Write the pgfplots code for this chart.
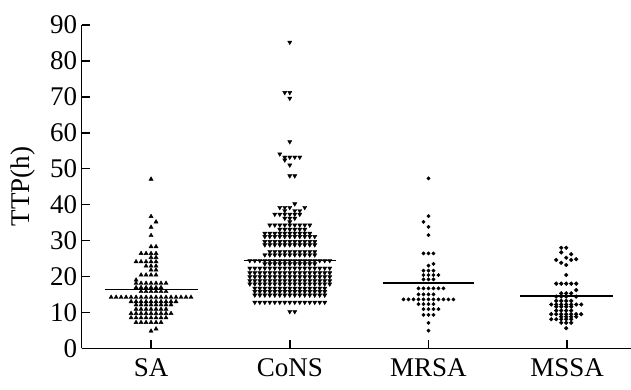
\documentclass[border=0pt]{standalone}
\usepackage{fontspec}
\setmainfont{Liberation Serif}
\usepackage{pgfplots}
\pgfplotsset{compat=1.18}
\begin{document}
\begin{tikzpicture}
\begin{axis}[
  scale only axis, width=549.3pt, height=323.3pt,
  xmin=-0.5, xmax=3.46, ymin=0, ymax=90,
  axis lines=left, axis line style={-, line width=1.5pt},
  xtick={0,1,2,3}, xticklabels={SA,CoNS,MRSA,MSSA},
  ytick={0,10,...,90},
  tick align=inside, major tick length=8pt, tick style={line width=1.5pt, black},
  xticklabel style={font=\fontsize{27}{29}\selectfont, yshift=-7pt},
  yticklabel style={font=\fontsize{27}{29}\selectfont, xshift=-1pt},
  /pgf/number format/assume math mode=true,
  ylabel={TTP(h)},
  ylabel style={font=\fontsize{27}{29}\selectfont, at={(axis description cs:-0.107,0.5)}, anchor=center},
  clip=false,
]
% SA
\addplot[only marks, mark=triangle*, mark size=2.4pt, black] table[row sep=\\, x expr=0.036*\thisrow{k}, y=y]{
k y\\
0 47.1\\ 0 36.7\\ 1 35.2\\ 0 33.7\\ 0 31.4\\
0 28.3\\ 1 28.3\\
-2 26.4\\ -1 26.4\\ 0 26.4\\ 1 26.4\\
0 25.3\\ 1 25.3\\
-3 24.1\\ -2 24.1\\ -1 24.1\\ 0 24.1\\ 1 24.1\\
-1 22.9\\ 0 22.9\\ 1 22.9\\
0 21.8\\ 1 21.8\\
-2 20.4\\ -1 20.4\\ 0 20.4\\ 1 20.4\\
-3 19.0\\
-3 18.1\\ -2 18.1\\ -1 18.1\\ 0 18.1\\ 1 18.1\\ 2 18.1\\ 3 18.1\\
-3 16.9\\ -2 16.9\\ -1 16.9\\ 0 16.9\\ 1 16.9\\ 2 16.9\\
-2 15.8\\ -1 15.8\\ 0 15.8\\ 1 15.8\\ 2 15.8\\ 3 15.8\\
-8 14.2\\ -7 14.2\\ -6 14.2\\ -5 14.2\\ -4 14.2\\ -3 14.2\\ -2 14.2\\ -1 14.2\\ 0 14.2\\ 1 14.2\\ 2 14.2\\ 3 14.2\\ 4 14.2\\ 5 14.2\\ 6 14.2\\ 7 14.2\\ 8 14.2\\
-4 13.0\\ -3 13.0\\ -2 13.0\\ -1 13.0\\ 0 13.0\\ 1 13.0\\ 2 13.0\\ 3 13.0\\ 4 13.0\\ 5 13.0\\
-3 12.1\\ -2 12.1\\ -1 12.1\\ 0 12.1\\ 1 12.1\\ 2 12.1\\ 3 12.1\\ 4 12.1\\
-3 10.9\\ -2 10.9\\ -1 10.9\\ 0 10.9\\ 1 10.9\\ 2 10.9\\ 3 10.9\\
-4 9.7\\ -3 9.7\\ -2 9.7\\ -1 9.7\\ 0 9.7\\ 1 9.7\\ 2 9.7\\ 3 9.7\\ 4 9.7\\
-4 8.5\\ -3 8.5\\ -2 8.5\\ -1 8.5\\ 0 8.5\\ 1 8.5\\ 2 8.5\\ 3 8.5\\
-3 7.2\\ -2 7.2\\ -1 7.2\\ 0 7.2\\ 1 7.2\\ 2 7.2\\
1 5.4\\ 0 4.8\\
};
% CoNS
\addplot[only marks, mark=triangle*, mark size=2.4pt, black, every mark/.append style={rotate=180}] table[row sep=\\, x expr=1+0.036*\thisrow{k}, y=y]{
k y\\
0 85.2\\ -1 71.2\\ 0 71.2\\ 0 69.6\\ 0 57.5\\ -2 54.1\\
-1 53.2\\ 0 53.2\\ 1 53.2\\ 2 53.2\\ -1 52.4\\ 0 51.0\\ 0 48.0\\ 1 48.0\\
1 40.2\\
-2 39.2\\ -1 39.2\\ 0 39.2\\ 3 39.2\\
-1 38.3\\ 1 38.3\\ 2 38.3\\
-3 37.3\\ -2 37.3\\ -1 37.3\\ 0 37.3\\ 1 37.3\\ 2 37.3\\
-1 36.2\\ 0 36.2\\ 1 36.2\\
0 35.2\\
-4 34.3\\ -3 34.3\\ -2 34.3\\ -1 34.3\\ 0 34.3\\ 1 34.3\\ 2 34.3\\ 3 34.3\\ 4 34.3\\
-2 33.1\\ -1 33.1\\ 0 33.1\\ 1 33.1\\ 2 33.1\\ 3 33.1\\
-5 32.0\\ -4 32.0\\ -3 32.0\\ -2 32.0\\ -1 32.0\\ 0 32.0\\ 1 32.0\\ 2 32.0\\ 3 32.0\\ 4 32.0\\
-5 31.1\\ -4 31.1\\ -3 31.1\\ -2 31.1\\ -1 31.1\\ 0 31.1\\ 1 31.1\\ 2 31.1\\ 3 31.1\\ 4 31.1\\ 5 31.1\\
-5 29.7\\ -4 29.7\\ -3 29.7\\ -2 29.7\\ -1 29.7\\ 0 29.7\\ 1 29.7\\ 2 29.7\\ 3 29.7\\ 4 29.7\\ 5 29.7\\
-5 28.8\\ -4 28.8\\ -3 28.8\\ -2 28.8\\ -1 28.8\\ 0 28.8\\ 1 28.8\\ 2 28.8\\ 3 28.8\\ 4 28.8\\ 5 28.8\\
-4 26.9\\ -3 26.9\\ -2 26.9\\ -1 26.9\\ 0 26.9\\ 1 26.9\\ 2 26.9\\ 3 26.9\\ 4 26.9\\ 5 26.9\\
-5 26.0\\ -4 26.0\\ -3 26.0\\ -2 26.0\\ -1 26.0\\ 0 26.0\\ 1 26.0\\ 2 26.0\\ 3 26.0\\ 4 26.0\\ 5 26.0\\
-8 24.4\\ -7 24.4\\ -6 24.4\\ -5 24.4\\ -4 24.4\\ -3 24.4\\ -2 24.4\\ -1 24.4\\ 0 24.4\\ 1 24.4\\ 2 24.4\\ 3 24.4\\ 4 24.4\\ 5 24.4\\ 6 24.4\\ 7 24.4\\ 8 24.4\\
-5 23.5\\ -4 23.5\\ -3 23.5\\ -2 23.5\\ -1 23.5\\ 0 23.5\\ 1 23.5\\ 2 23.5\\ 3 23.5\\ 4 23.5\\ 5 23.5\\
-8 22.3\\ -7 22.3\\ -6 22.3\\ -5 22.3\\ -4 22.3\\ -3 22.3\\ -2 22.3\\ -1 22.3\\ 0 22.3\\ 1 22.3\\ 2 22.3\\ 3 22.3\\ 4 22.3\\ 5 22.3\\ 6 22.3\\ 7 22.3\\ 8 22.3\\
-8 21.0\\ -7 21.0\\ -6 21.0\\ -5 21.0\\ -4 21.0\\ -3 21.0\\ -2 21.0\\ -1 21.0\\ 0 21.0\\ 1 21.0\\ 2 21.0\\ 3 21.0\\ 4 21.0\\ 5 21.0\\ 6 21.0\\ 7 21.0\\ 8 21.0\\
-8 19.9\\ -7 19.9\\ -6 19.9\\ -5 19.9\\ -4 19.9\\ -3 19.9\\ -2 19.9\\ -1 19.9\\ 0 19.9\\ 1 19.9\\ 2 19.9\\ 3 19.9\\ 4 19.9\\ 5 19.9\\ 6 19.9\\ 7 19.9\\ 8 19.9\\
-8 18.8\\ -7 18.8\\ -6 18.8\\ -5 18.8\\ -4 18.8\\ -3 18.8\\ -2 18.8\\ -1 18.8\\ 0 18.8\\ 1 18.8\\ 2 18.8\\ 3 18.8\\ 4 18.8\\ 5 18.8\\ 6 18.8\\ 7 18.8\\ 8 18.8\\
-8 17.9\\ -7 17.9\\ -6 17.9\\ -5 17.9\\ -4 17.9\\ -3 17.9\\ -2 17.9\\ -1 17.9\\ 0 17.9\\ 1 17.9\\ 2 17.9\\ 3 17.9\\ 4 17.9\\ 5 17.9\\ 6 17.9\\ 7 17.9\\ 8 17.9\\
-7 16.7\\ -6 16.7\\ -5 16.7\\ -4 16.7\\ -3 16.7\\ -2 16.7\\ -1 16.7\\ 0 16.7\\ 1 16.7\\ 2 16.7\\ 3 16.7\\ 4 16.7\\ 5 16.7\\ 6 16.7\\ 7 16.7\\
-7 15.8\\ -6 15.8\\ -5 15.8\\ -4 15.8\\ -3 15.8\\ -2 15.8\\ -1 15.8\\ 0 15.8\\ 1 15.8\\ 2 15.8\\ 3 15.8\\ 4 15.8\\ 5 15.8\\ 6 15.8\\ 7 15.8\\
-7 14.8\\ -6 14.8\\ -5 14.8\\ -4 14.8\\ -3 14.8\\ -2 14.8\\ -1 14.8\\ 0 14.8\\ 1 14.8\\ 2 14.8\\ 3 14.8\\ 4 14.8\\ 5 14.8\\ 6 14.8\\ 7 14.8\\
-7 12.8\\ -6 12.8\\ -5 12.8\\ -4 12.8\\ -3 12.8\\ -2 12.8\\ -1 12.8\\ 0 12.8\\ 1 12.8\\ 2 12.8\\ 3 12.8\\ 4 12.8\\ 5 12.8\\ 6 12.8\\ 7 12.8\\
0 10.2\\ 1 10.2\\
};
% MRSA
\addplot[only marks, mark=*, mark size=1.7pt, black] table[row sep=\\, x expr=2+0.036*\thisrow{k}, y=y]{
k y\\
0 47.3\\ 0 36.8\\ -1 35.2\\ 0 33.8\\ 0 31.5\\
-1 26.4\\ 0 26.4\\ 1 26.4\\
1 23.5\\ 0 23.0\\
-1 21.6\\ 0 21.6\\ 1 21.6\\
-1 20.4\\ 0 20.4\\ 1 20.4\\ 2 20.4\\
-1 19.2\\ 0 19.2\\ 1 19.2\\
-2 16.7\\ -1 16.7\\ 0 16.7\\ 1 16.7\\ 2 16.7\\ 3 16.7\\
-2 15.0\\ -1 15.0\\ 0 15.0\\ 1 15.0\\
-5 13.6\\ -4 13.6\\ -3 13.6\\ -2 13.6\\ -1 13.6\\ 0 13.6\\ 1 13.6\\ 2 13.6\\ 3 13.6\\ 4 13.6\\ 5 13.6\\
-2 12.3\\ -1 12.3\\ 0 12.3\\ 1 12.3\\
-1 10.9\\ 0 10.9\\ 1 10.9\\ 2 10.9\\
-1 9.3\\ 0 9.3\\ 1 9.3\\
0 7.1\\ 0 4.9\\
};
% MSSA
\addplot[only marks, mark=*, mark size=1.9pt, black] table[row sep=\\, x expr=2.993+0.036*\thisrow{k}, y=y]{
k y\\
-1 28.0\\ 0 28.0\\ -1 26.7\\ 1 26.2\\ 0 25.2\\
-2 24.6\\ 1 24.6\\ 2 24.8\\ -1 23.8\\ 0 23.2\\
0 20.4\\
-2 18.0\\ -1 18.0\\ 0 18.0\\ 1 18.0\\ 2 18.0\\
2 16.2\\ -1 15.3\\ 0 15.3\\ 1 15.3\\
-2 14.4\\ -1 14.4\\ 0 14.4\\ 2 14.4\\
-2 13.2\\ -1 13.2\\ 0 13.2\\ 1 13.2\\
-3 12.2\\ -2 12.2\\ -1 12.2\\ 0 12.2\\ 1 12.2\\ 2 12.2\\ 3 12.2\\
-2 11.6\\ -1 11.6\\ 0 11.6\\ 1 11.6\\
-2 10.5\\ -1 10.5\\ 0 10.5\\ 1 10.5\\
-3 9.5\\ -2 9.5\\ -1 9.5\\ 0 9.5\\ 1 9.5\\ 2 9.5\\ 3 9.5\\
-1 8.8\\ 0 8.8\\ 1 8.8\\ 2 8.8\\
-3 8.1\\ -2 8.1\\ -1 8.1\\ 0 8.1\\ 1 8.1\\
-1 7.1\\ 0 7.1\\ 1 7.1\\
0 5.6\\
};
% mean lines
\addplot[black, line width=1.6pt] coordinates {(-0.33,16.4) (0.34,16.4)};
\addplot[black, line width=1.6pt] coordinates {(0.67,24.4) (1.33,24.4)};
\addplot[black, line width=1.6pt] coordinates {(1.67,18.1) (2.33,18.1)};
\addplot[black, line width=1.6pt] coordinates {(2.66,14.6) (3.33,14.6)};
\end{axis}
\pgfresetboundingbox
\path (-81.7pt,-41.7pt) rectangle (549.3pt,348.3pt);
\end{tikzpicture}
\end{document}
